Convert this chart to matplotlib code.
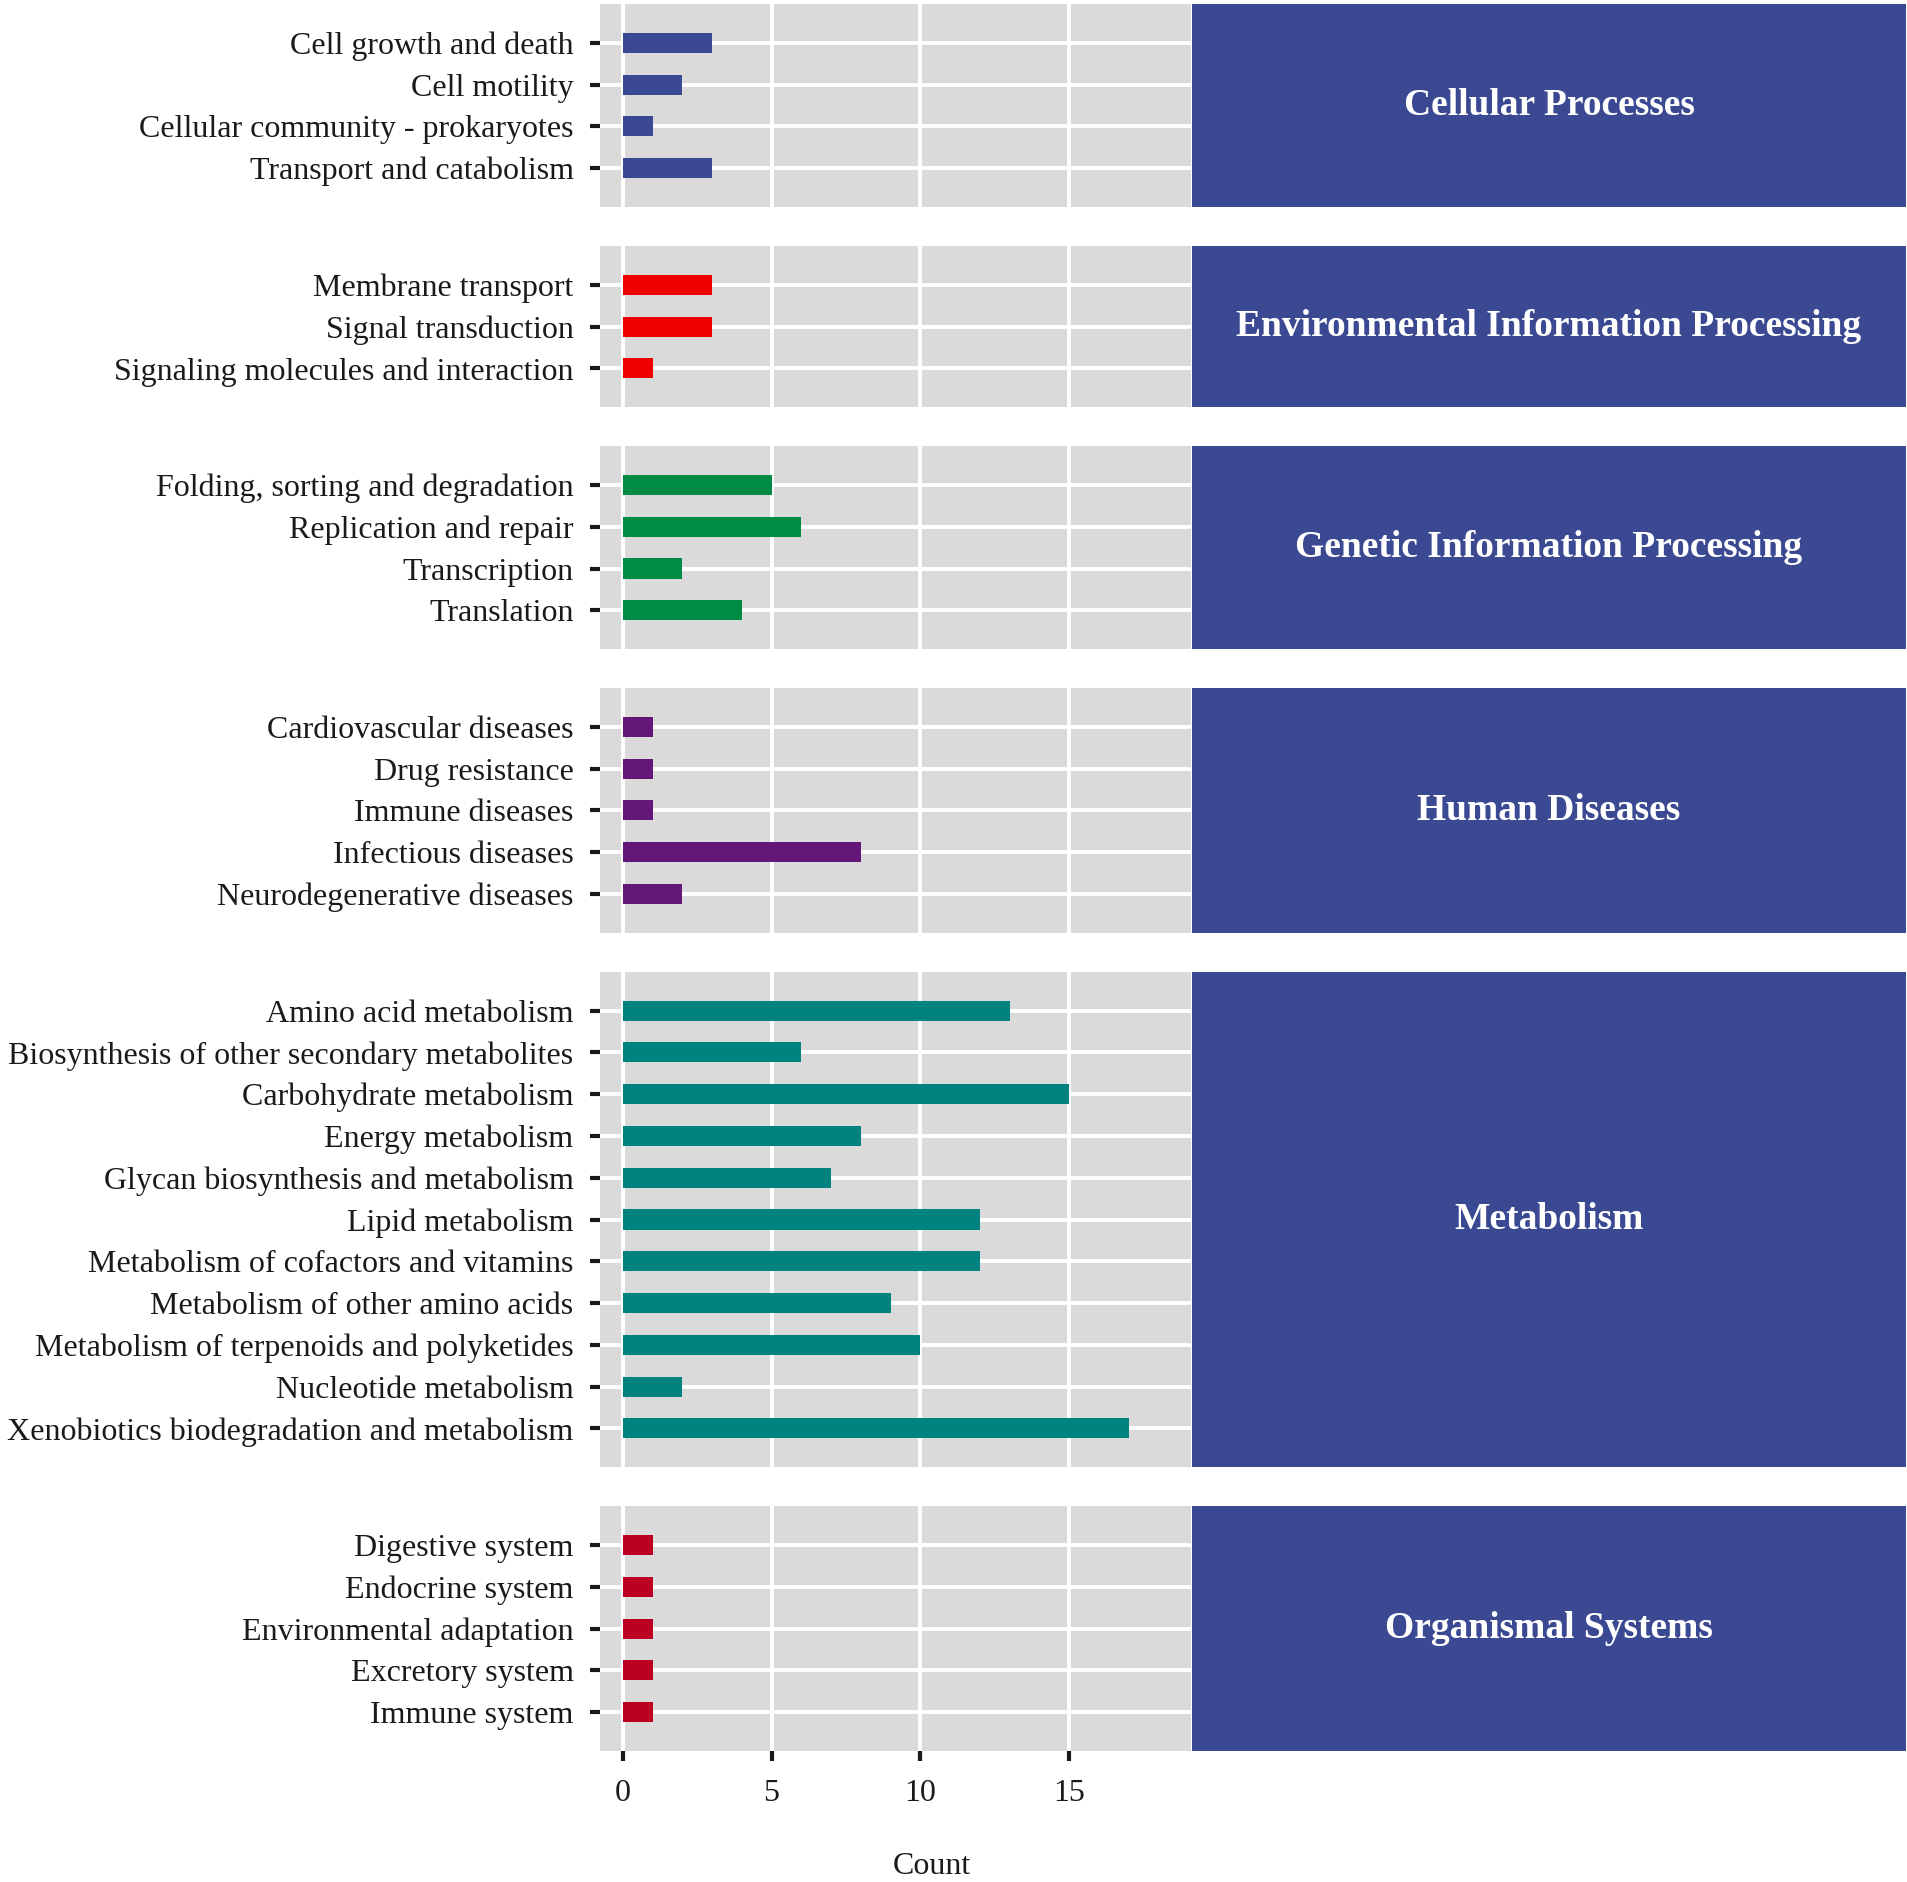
import matplotlib
matplotlib.use("Agg")
import matplotlib.pyplot as plt

# KEGG level-1 groups, their level-2 pathways and counts
groups = ["Cellular Processes", "Environmental Information Processing",
          "Genetic Information Processing", "Human Diseases",
          "Metabolism", "Organismal Systems"]

cellular = ["Cell growth and death", "Cell motility",
            "Cellular community - prokaryotes", "Transport and catabolism"]
cellular_n = [3, 2, 1, 3]

environmental = ["Membrane transport", "Signal transduction",
                 "Signaling molecules and interaction"]
environmental_n = [3, 3, 1]

genetic = ["Folding, sorting and degradation", "Replication and repair",
           "Transcription", "Translation"]
genetic_n = [5, 6, 2, 4]

disease = ["Cardiovascular diseases", "Drug resistance", "Immune diseases",
           "Infectious diseases", "Neurodegenerative diseases"]
disease_n = [1, 1, 1, 8, 2]

metabolism = ["Amino acid metabolism", "Biosynthesis of other secondary metabolites",
              "Carbohydrate metabolism", "Energy metabolism",
              "Glycan biosynthesis and metabolism", "Lipid metabolism",
              "Metabolism of cofactors and vitamins", "Metabolism of other amino acids",
              "Metabolism of terpenoids and polyketides", "Nucleotide metabolism",
              "Xenobiotics biodegradation and metabolism"]
metabolism_n = [13, 6, 15, 8, 7, 12, 12, 9, 10, 2, 17]

organismal = ["Digestive system", "Endocrine system", "Environmental adaptation",
              "Excretory system", "Immune system"]
organismal_n = [1, 1, 1, 1, 1]

colors = ["#3B4992", "#EE0000", "#008B45", "#631879", "#008280", "#BB0021"]
x_ticks = [0, 5, 10, 15]

plt.rcParams["font.family"] = ["Liberation Serif", "DejaVu Serif"]

W, H = 1908, 1882
fig = plt.figure(figsize=(W / 100, H / 100), dpi=100)

labels_all = [cellular, environmental, genetic, disease, metabolism, organismal]
counts_all = [cellular_n, environmental_n, genetic_n, disease_n, metabolism_n, organismal_n]

pad = 0.93   # space above first / below last bar, in category units
gap = 0.93   # space between facets, in category units
top_px, bottom_px = 4, 1751
total_units = sum(len(l) - 1 + 2 * pad for l in labels_all) + gap * (len(groups) - 1)
unit = (bottom_px - top_px) / total_units

panel_left, panel_right = 600, 1191
strip_left, strip_right = 1192, 1906
txt = "#1a1a1a"

y_cursor = top_px
for i, (grp, labs, vals) in enumerate(zip(groups, labels_all, counts_all)):
    n = len(labs)
    h = (n - 1 + 2 * pad) * unit
    y0 = H - (y_cursor + h)
    ax = fig.add_axes([panel_left / W, y0 / H, (panel_right - panel_left) / W, h / H])
    ax.set_facecolor("#DADADA")
    pos = list(range(n))
    ax.barh(pos, vals, height=0.48, color=colors[i], zorder=3)
    ax.set_ylim(n - 1 + pad, -pad)
    ax.set_xlim(-0.77, 19.1)
    ax.set_yticks(pos)
    ax.set_yticklabels(labs, fontsize=23, color=txt)
    ax.set_xticks(x_ticks)
    ax.grid(True, color="white", linewidth=2.8, zorder=0)
    ax.set_axisbelow(True)
    for s in ax.spines.values():
        s.set_visible(False)
    ax.tick_params(axis="y", length=7, width=3, color=txt, pad=12)
    if i == len(groups) - 1:
        ax.tick_params(axis="x", length=7, width=3, color=txt, pad=13,
                       labelsize=23, labelcolor=txt)
    else:
        ax.tick_params(axis="x", length=0, labelbottom=False)

    sax = fig.add_axes([strip_left / W, y0 / H, (strip_right - strip_left) / W, h / H])
    sax.set_facecolor("#3B4992")
    sax.set_xticks([])
    sax.set_yticks([])
    for s in sax.spines.values():
        s.set_visible(False)
    sax.text(0.5, 0.5, grp, transform=sax.transAxes, ha="center", va="center",
             color="white", fontsize=27, fontweight="bold")

    y_cursor += h + gap * unit

fig.text(932 / W, 1 - 1867 / H, "Count", ha="center", va="center", fontsize=23, color=txt)

fig.savefig("out.png", dpi=100, facecolor="white")
